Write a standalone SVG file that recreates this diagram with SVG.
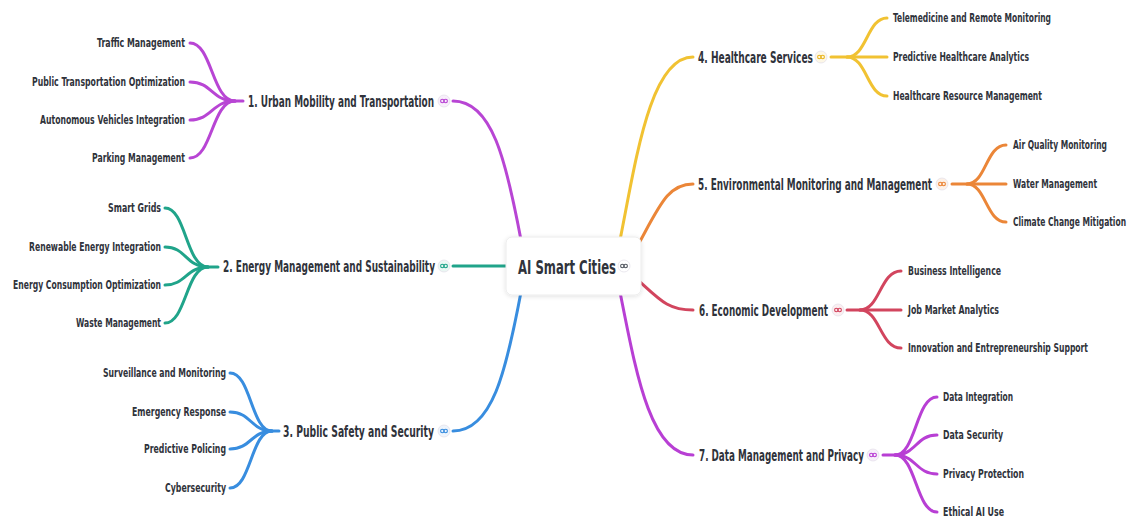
<svg xmlns="http://www.w3.org/2000/svg" width="1131" height="519" viewBox="0 0 1131 519">
  <defs>
    <style>
      .leaf { font-family: "Liberation Sans Narrow", "DejaVu Sans Condensed", "Roboto Condensed", "Liberation Sans", sans-serif; font-weight: bold; font-size: 12px; fill: #30333b; }
      .topic { font-family: "Liberation Sans Narrow", "DejaVu Sans Condensed", "Roboto Condensed", "Liberation Sans", sans-serif; font-weight: bold; font-size: 15px; fill: #30333b; }
      .root { font-family: "Liberation Sans Narrow", "DejaVu Sans Condensed", "Roboto Condensed", "Liberation Sans", sans-serif; font-weight: bold; font-size: 20px; fill: #30333b; }
      .ln { fill: none; stroke-width: 3; stroke-linecap: round; }
      .c1 { stroke: #b845d4; }
      .c2 { stroke: #20a48a; }
      .c3 { stroke: #388ddf; }
      .c4 { stroke: #f1c232; }
      .c5 { stroke: #eb8638; }
      .c6 { stroke: #d2455e; }
      .c7 { stroke: #b83fd4; }
      .bg { stroke: #e4e1ea; stroke-width: 0.8; }
    </style>
    <filter id="shadow" x="-20%" y="-30%" width="140%" height="160%">
      <feDropShadow dx="0" dy="1" stdDeviation="2" flood-color="#000" flood-opacity="0.12"/>
    </filter>
    <!-- collapse/expand glyph: two linked loops, stroke taken from the <use> -->
    <g id="loop" fill="none" stroke-width="1.1">
      <circle cx="-1.7" cy="0" r="1.7"/>
      <circle cx="1.7" cy="0" r="1.7"/>
    </g>
  </defs>

  <rect width="1131" height="519" fill="#ffffff"/>

  <!-- connectors -->
  <g id="connectors">
    <!-- root to topics -->
    <path class="ln c1" d="M453,101 C492,101 506,160 521,240"/>
    <path class="ln c2" d="M453,266 H508"/>
    <path class="ln c3" d="M453,431 C492,431 506,372 521,292"/>
    <path class="ln c4" d="M620,240 C636,160 650,57 693,57"/>
    <path class="ln c5" d="M638,245 C660,205 668,184 693,184"/>
    <path class="ln c6" d="M638,280 C660,300 668,310 693,310"/>
    <path class="ln c7" d="M620,292 C636,372 650,455 693,455"/>

    <!-- 1. Urban Mobility -->
    <path class="ln c1" d="M243,101 H235 C212,101 212,43 190,43"/>
    <path class="ln c1" d="M235,101 C212,101 212,82 190,82"/>
    <path class="ln c1" d="M235,101 C212,101 212,120 190,120"/>
    <path class="ln c1" d="M235,101 C212,101 212,158 190,158"/>

    <!-- 2. Energy -->
    <path class="ln c2" d="M218,267 H208 C186,267 186,208 165,208"/>
    <path class="ln c2" d="M208,267 C186,267 186,247 165,247"/>
    <path class="ln c2" d="M208,267 C186,267 186,285 165,285"/>
    <path class="ln c2" d="M208,267 C186,267 186,323 165,323"/>

    <!-- 3. Public Safety -->
    <path class="ln c3" d="M279,431 H272 C251,431 251,373 230,373"/>
    <path class="ln c3" d="M272,431 C251,431 251,412 230,412"/>
    <path class="ln c3" d="M272,431 C251,431 251,449 230,449"/>
    <path class="ln c3" d="M272,431 C251,431 251,488 230,488"/>

    <!-- 4. Healthcare -->
    <path class="ln c4" d="M831,57 H847 C867,57 867,18 887,18"/>
    <path class="ln c4" d="M847,57 H887"/>
    <path class="ln c4" d="M847,57 C867,57 867,96 887,96"/>

    <!-- 5. Environmental -->
    <path class="ln c5" d="M952,184 H967 C986,184 986,145 1006,145"/>
    <path class="ln c5" d="M967,184 H1006"/>
    <path class="ln c5" d="M967,184 C986,184 986,222 1006,222"/>

    <!-- 6. Economic -->
    <path class="ln c6" d="M847,310 H860 C880,310 880,271 901,271"/>
    <path class="ln c6" d="M860,310 H901"/>
    <path class="ln c6" d="M860,310 C880,310 880,348 901,348"/>

    <!-- 7. Data Management -->
    <path class="ln c7" d="M883,455 H895 C916,455 916,397 937,397"/>
    <path class="ln c7" d="M895,455 C916,455 916,435 937,435"/>
    <path class="ln c7" d="M895,455 C916,455 916,474 937,474"/>
    <path class="ln c7" d="M895,455 C916,455 916,512 937,512"/>
  </g>

  <!-- central topic -->
  <g id="root">
    <rect x="506" y="237" width="135" height="58" rx="6" fill="#ffffff" stroke="#ececec" filter="url(#shadow)"/>
    <text class="root" x="518" y="273.5" textLength="98" lengthAdjust="spacingAndGlyphs">AI Smart Cities</text>
    <circle class="bg" cx="624" cy="266" r="6" fill="#ffffff"/>
    <use href="#loop" x="624" y="266" stroke="#555a63"/>
  </g>

  <!-- 1. Urban Mobility and Transportation -->
  <g id="topic1">
    <text class="topic" x="434" y="106.5" text-anchor="end" textLength="186" lengthAdjust="spacingAndGlyphs">1. Urban Mobility and Transportation</text>
    <circle class="bg" cx="444" cy="101" r="6" fill="#f8eefb"/>
    <use href="#loop" x="444" y="101" stroke="#b845d4"/>
  </g>
  <g id="leaf1a"><text class="leaf" x="185" y="47.3" text-anchor="end" textLength="88" lengthAdjust="spacingAndGlyphs">Traffic Management</text></g>
  <g id="leaf1b"><text class="leaf" x="185" y="86.3" text-anchor="end" textLength="153" lengthAdjust="spacingAndGlyphs">Public Transportation Optimization</text></g>
  <g id="leaf1c"><text class="leaf" x="185" y="124.3" text-anchor="end" textLength="145" lengthAdjust="spacingAndGlyphs">Autonomous Vehicles Integration</text></g>
  <g id="leaf1d"><text class="leaf" x="185" y="162.3" text-anchor="end" textLength="93" lengthAdjust="spacingAndGlyphs">Parking Management</text></g>

  <!-- 2. Energy Management and Sustainability -->
  <g id="topic2">
    <text class="topic" x="435" y="272" text-anchor="end" textLength="212" lengthAdjust="spacingAndGlyphs">2. Energy Management and Sustainability</text>
    <circle class="bg" cx="444" cy="266" r="6" fill="#eaf7f3"/>
    <use href="#loop" x="444" y="266" stroke="#20a48a"/>
  </g>
  <g id="leaf2a"><text class="leaf" x="161" y="212.3" text-anchor="end" textLength="53" lengthAdjust="spacingAndGlyphs">Smart Grids</text></g>
  <g id="leaf2b"><text class="leaf" x="161" y="251.3" text-anchor="end" textLength="132" lengthAdjust="spacingAndGlyphs">Renewable Energy Integration</text></g>
  <g id="leaf2c"><text class="leaf" x="161" y="289.3" text-anchor="end" textLength="148" lengthAdjust="spacingAndGlyphs">Energy Consumption Optimization</text></g>
  <g id="leaf2d"><text class="leaf" x="161" y="327.3" text-anchor="end" textLength="85" lengthAdjust="spacingAndGlyphs">Waste Management</text></g>

  <!-- 3. Public Safety and Security -->
  <g id="topic3">
    <text class="topic" x="434" y="436.5" text-anchor="end" textLength="151" lengthAdjust="spacingAndGlyphs">3. Public Safety and Security</text>
    <circle class="bg" cx="444" cy="431" r="6" fill="#edf4fc"/>
    <use href="#loop" x="444" y="431" stroke="#388ddf"/>
  </g>
  <g id="leaf3a"><text class="leaf" x="226" y="377.3" text-anchor="end" textLength="123" lengthAdjust="spacingAndGlyphs">Surveillance and Monitoring</text></g>
  <g id="leaf3b"><text class="leaf" x="226" y="416.3" text-anchor="end" textLength="94" lengthAdjust="spacingAndGlyphs">Emergency Response</text></g>
  <g id="leaf3c"><text class="leaf" x="226" y="453.3" text-anchor="end" textLength="82" lengthAdjust="spacingAndGlyphs">Predictive Policing</text></g>
  <g id="leaf3d"><text class="leaf" x="226" y="492.3" text-anchor="end" textLength="61" lengthAdjust="spacingAndGlyphs">Cybersecurity</text></g>

  <!-- 4. Healthcare Services -->
  <g id="topic4">
    <text class="topic" x="698" y="62.5" textLength="115" lengthAdjust="spacingAndGlyphs">4. Healthcare Services</text>
    <circle class="bg" cx="821" cy="57" r="6" fill="#fdf7e6"/>
    <use href="#loop" x="821" y="57" stroke="#e8b520"/>
  </g>
  <g id="leaf4a"><text class="leaf" x="893" y="22.3" textLength="158" lengthAdjust="spacingAndGlyphs">Telemedicine and Remote Monitoring</text></g>
  <g id="leaf4b"><text class="leaf" x="893" y="61.3" textLength="136" lengthAdjust="spacingAndGlyphs">Predictive Healthcare Analytics</text></g>
  <g id="leaf4c"><text class="leaf" x="893" y="100.3" textLength="149" lengthAdjust="spacingAndGlyphs">Healthcare Resource Management</text></g>

  <!-- 5. Environmental Monitoring and Management -->
  <g id="topic5">
    <text class="topic" x="698" y="189.5" textLength="234" lengthAdjust="spacingAndGlyphs">5. Environmental Monitoring and Management</text>
    <circle class="bg" cx="942" cy="184" r="6" fill="#fdf1e7"/>
    <use href="#loop" x="942" y="184" stroke="#eb8638"/>
  </g>
  <g id="leaf5a"><text class="leaf" x="1013" y="149.3" textLength="94" lengthAdjust="spacingAndGlyphs">Air Quality Monitoring</text></g>
  <g id="leaf5b"><text class="leaf" x="1013" y="188.3" textLength="84" lengthAdjust="spacingAndGlyphs">Water Management</text></g>
  <g id="leaf5c"><text class="leaf" x="1013" y="226.3" textLength="113" lengthAdjust="spacingAndGlyphs">Climate Change Mitigation</text></g>

  <!-- 6. Economic Development -->
  <g id="topic6">
    <text class="topic" x="699" y="315.5" textLength="129" lengthAdjust="spacingAndGlyphs">6. Economic Development</text>
    <circle class="bg" cx="838" cy="310" r="6" fill="#fbeef0"/>
    <use href="#loop" x="838" y="310" stroke="#d2455e"/>
  </g>
  <g id="leaf6a"><text class="leaf" x="908" y="275.3" textLength="93" lengthAdjust="spacingAndGlyphs">Business Intelligence</text></g>
  <g id="leaf6b"><text class="leaf" x="908" y="314.3" textLength="91" lengthAdjust="spacingAndGlyphs">Job Market Analytics</text></g>
  <g id="leaf6c"><text class="leaf" x="908" y="352.3" textLength="180" lengthAdjust="spacingAndGlyphs">Innovation and Entrepreneurship Support</text></g>

  <!-- 7. Data Management and Privacy -->
  <g id="topic7">
    <text class="topic" x="699" y="460.5" textLength="165" lengthAdjust="spacingAndGlyphs">7. Data Management and Privacy</text>
    <circle class="bg" cx="873" cy="455" r="6" fill="#f8eefb"/>
    <use href="#loop" x="873" y="455" stroke="#b83fd4"/>
  </g>
  <g id="leaf7a"><text class="leaf" x="943" y="401.3" textLength="70" lengthAdjust="spacingAndGlyphs">Data Integration</text></g>
  <g id="leaf7b"><text class="leaf" x="943" y="439.3" textLength="60" lengthAdjust="spacingAndGlyphs">Data Security</text></g>
  <g id="leaf7c"><text class="leaf" x="943" y="478.3" textLength="81" lengthAdjust="spacingAndGlyphs">Privacy Protection</text></g>
  <g id="leaf7d"><text class="leaf" x="943" y="516.3" textLength="61" lengthAdjust="spacingAndGlyphs">Ethical AI Use</text></g>
</svg>
